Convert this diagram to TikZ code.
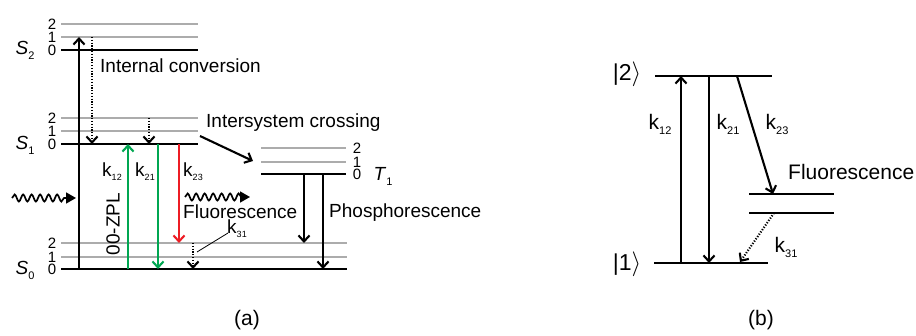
\documentclass[tikz,border=0pt]{standalone}
\usepackage{fontspec}
\setmainfont{Liberation Sans}
\usetikzlibrary{arrows.meta,decorations.pathmorphing,calc}
\definecolor{fgreen}{RGB}{0,166,81}
\definecolor{fred}{RGB}{237,28,36}
\newcommand{\fs}[1]{\fontsize{#1}{#1}\selectfont}
\newcommand{\kk}[1]{k\raisebox{-4pt}{\fs{9}#1}}
\newcommand{\kkb}[1]{k\raisebox{-5pt}{\fs{11}#1}}
\newcommand{\stlab}[2]{\textit{#1}\raisebox{-5pt}{\fs{11}#2}}
\begin{document}
\begin{tikzpicture}[x=1pt,y=-1pt,
  lvl/.style={line width=2.7pt},
  sublvl/.style={gray!65,line width=1.3pt},
  arr/.style={line width=2.1pt,-{Straight Barb[length=6pt,width=11pt,line width=2.1pt]}},
  dotarr/.style={line width=2.1pt,dash pattern=on 1.2pt off 1.6pt,-{Straight Barb[length=6pt,width=11pt,line width=2.1pt]}},
  wave/.style={line width=1.7pt,decorate,decoration={snake,amplitude=3.5pt,segment length=8.5pt,post length=8pt},
    -{Triangle[length=10pt,width=11pt]}},
  txt/.style={inner sep=0pt,font=\fs{19}},
  num/.style={inner sep=0pt,font=\fs{15}},
  btxt/.style={inner sep=0pt,font=\fs{21}}]
\useasboundingbox (0,0) rectangle (916,336);

% ---------- (a) levels ----------
\foreach \n/\ya/\yb in {S2/37/24,S1/131/118}{
  \draw[sublvl] (61,\ya) coordinate (\n1L) -- (198,\ya);
  \draw[sublvl] (61,\yb) coordinate (\n2L) -- (198,\yb);
}
\draw[sublvl] (61,257) coordinate (S01L) -- (347,257);
\draw[sublvl] (61,243) coordinate (S02L) -- (347,243);
\draw[sublvl] (261,162) -- (346,162) coordinate (T11R);
\draw[sublvl] (261,148) -- (346,148) coordinate (T12R);
\foreach \n/\y in {S2/50,S1/144,S0/269}{
  \draw[lvl] (61,\y) coordinate (\n0L) -- (198,\y) coordinate (\n0R);
}
\draw[lvl] (198,269) -- (347,269) coordinate (S00R);
\draw[lvl] (261,174) coordinate (T10L) -- (346,174) coordinate (T10R);

% level numbers
\foreach \n in {S2,S1,S0}{
  \node[num] at ($(\n0L)+(-9,0)$) {0};
  \node[num] at ($(\n1L)+(-9,0)$) {1};
  \node[num] at ($(\n2L)+(-9,0)$) {2};
}
\node[num] at ($(T10R)+(11,0)$) {0};
\node[num] at ($(T11R)+(11,0)$) {1};
\node[num] at ($(T12R)+(11,0)$) {2};

\node[txt] (lS2) at (25,50) {\stlab{S}{2}};
\node[txt] (lS1) at (25,145) {\stlab{S}{1}};
\node[txt] (lS0) at (25,270) {\stlab{S}{0}};
\node[txt] (lT1) at (383,176) {\stlab{T}{1}};

% named arrow end points
\coordinate (exA) at (79,269);  \coordinate (exB) at (79,37);
\coordinate (icA) at (92,37);   \coordinate (icB) at (92,144);
\coordinate (vrA) at (149,118); \coordinate (vrB) at (149,144);
\coordinate (isA) at (200,136); \coordinate (isB) at (253,161);
\coordinate (gA) at (128,269);  \coordinate (gB) at (128,144);
\coordinate (hA) at (158,144);  \coordinate (hB) at (158,269);
\coordinate (rA) at (179,144);  \coordinate (rB) at (179,243);
\coordinate (dA) at (193,243);  \coordinate (dB) at (193,269);
\coordinate (pA) at (304,174);  \coordinate (pB) at (304,243);
\coordinate (qA) at (323,174);  \coordinate (qB) at (323,269);
\coordinate (w1A) at (12,198);  \coordinate (w1B) at (76,198);
\coordinate (w2A) at (185,197); \coordinate (w2B) at (250,197);

\draw[arr] (exA) -- (exB);
\draw[dotarr] (icA) -- (icB);
\draw[dotarr] (vrA) -- (vrB);
\draw[arr] (isA) -- (isB);
\draw[arr,fgreen] (gA) -- (gB);
\draw[arr,fgreen] (hA) -- (hB);
\draw[arr,fred] (rA) -- (rB);
\draw[dotarr] (dA) -- (dB);
\draw[arr] (pA) -- (pB);
\draw[arr] (qA) -- (qB);
\draw[wave] (w1A) -- (w1B);
\draw[wave] (w2A) -- (w2B);

% texts (a)
\node[txt,anchor=west] (ic) at (100,66) {Internal conversion};
\node[txt,anchor=west] (isc) at (206,123) {Intersystem crossing};
\node[txt] (k12a) at (112,172) {\kk{12}};
\node[txt] (k21a) at (145,172) {\kk{21}};
\node[txt] (k23a) at (193,172) {\kk{23}};
\node[txt,rotate=90] (zpl) at (113,224) {00-ZPL};
\node[txt,anchor=west] (fla) at (183,212) {Fluorescence};
\node[txt] (k31a) at (237,229) {\kk{31}};
\coordinate (k31t) at (228,233);
\coordinate (k31e) at (197,252);
\draw[line width=0.8pt] (k31t) -- (k31e);
\node[txt,anchor=west] (ph) at (329,213) {Phosphorescence};
\node[inner sep=0pt,font=\fs{21}] (la) at (247,320) {(a)};

% ---------- (b) ----------
\draw[lvl] (655,76) coordinate (L2L) -- (772,76) coordinate (L2R);
\draw[lvl] (654,263) coordinate (L1L) -- (768,263) coordinate (L1R);
\draw[lvl] (749,194) coordinate (M1L) -- (834,194);
\draw[lvl] (749,213) coordinate (M2L) -- (834,213);
\node[btxt,font=\fs{23}] (ket2) at (627,74) {|2$\rangle$};
\node[btxt,font=\fs{23}] (ket1) at (627,264) {|1$\rangle$};
\coordinate (b1A) at (681,263); \coordinate (b1B) at (681,76);
\coordinate (b2A) at (709,76);  \coordinate (b2B) at (709,263);
\coordinate (b3A) at (737,76);  \coordinate (b3B) at (773,194);
\coordinate (b4A) at (774,213); \coordinate (b4B) at (740,262);
\draw[arr] (b1A) -- (b1B);
\draw[arr] (b2A) -- (b2B);
\draw[arr] (b3A) -- (b3B);
\draw[dotarr] (b4A) -- (b4B);
\node[btxt] (k12b) at (660,124) {\kkb{12}};
\node[btxt] (k21b) at (728,124) {\kkb{21}};
\node[btxt] (k23b) at (777,124) {\kkb{23}};
\node[btxt,anchor=west] (flb) at (788,172) {Fluorescence};
\node[btxt] (k31b) at (786,247) {\kkb{31}};
\node[inner sep=0pt,font=\fs{21}] (lb) at (761,320) {(b)};
\end{tikzpicture}
\end{document}
